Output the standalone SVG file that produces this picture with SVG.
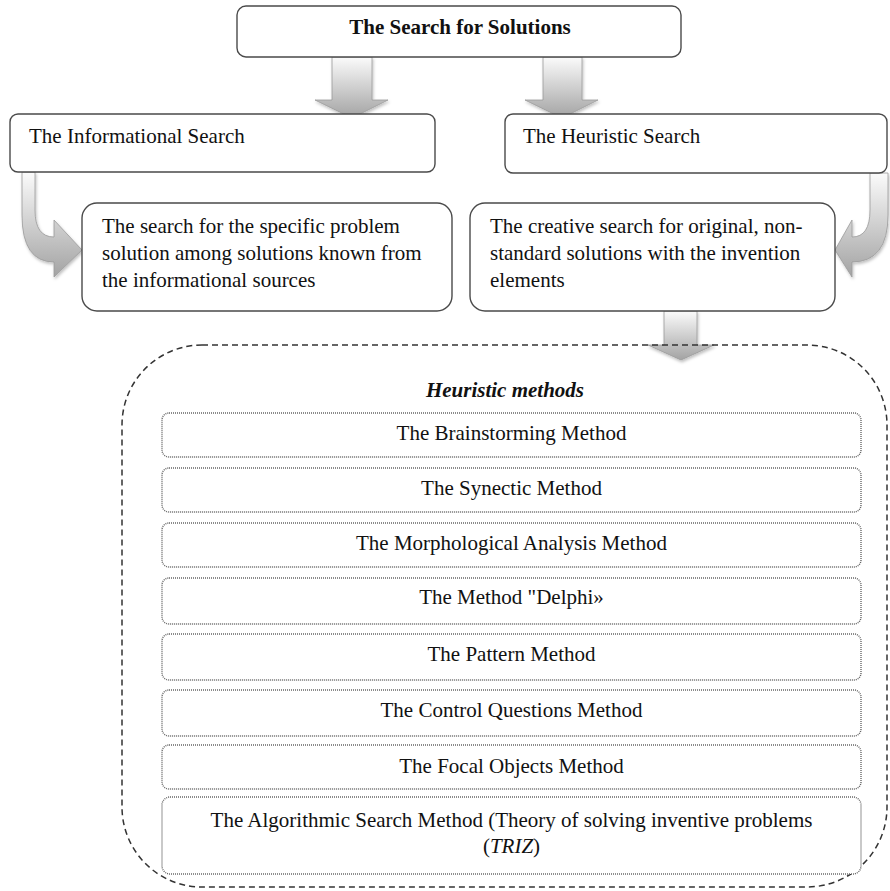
<svg xmlns="http://www.w3.org/2000/svg" width="890" height="891" viewBox="0 0 890 891">
<defs>
<style>
text{font-size:21px;fill:#111}
.c{text-anchor:middle}
.box{fill:#fff;stroke:#4a4a4a;stroke-width:1.4}
.mbox{fill:#fff;stroke:#666;stroke-width:1.4;stroke-dasharray:1 1}
.arr{stroke:#9a9a9a;stroke-width:0.8}
</style>
<linearGradient id="gv" x1="0" y1="0" x2="0" y2="1">
<stop offset="0" stop-color="#fbfbfb"/>
<stop offset="1" stop-color="#a3a3a3"/>
</linearGradient>
<filter id="sh" x="-20%" y="-20%" width="140%" height="140%">
<feDropShadow dx="1" dy="2" stdDeviation="1.5" flood-color="#000" flood-opacity="0.25"/>
</filter>
</defs>

<g id="connectors">
<path class="arr" fill="url(#gv)" filter="url(#sh)" d="M332 57 L372 57 L372 100 L388 100 L352 118 L315 100 L332 100 Z"/>
<path class="arr" fill="url(#gv)" filter="url(#sh)" d="M543 57 L582 57 L582 100 L598 100 L562 118 L525 100 L543 100 Z"/>
<path class="arr" fill="url(#gv)" filter="url(#sh)" d="M664 311 L697 311 L697 345 L714 345 L681 360 L648 345 L664 345 Z"/>
<path class="arr" fill="url(#gv)" filter="url(#sh)" d="M22 172 L35 172 L35 210 Q35 237 54 237 L54 220 L82 250 L54 277 L54 262 Q22 262 22 215 Z"/>
<path class="arr" fill="url(#gv)" filter="url(#sh)" d="M888 173 L870 173 L870 210 Q870 237 852 237 L852 220 L835 250 L852 277 L852 262 Q888 262 888 215 Z"/>
</g>

<g font-family="'Liberation Serif', serif">
<g id="n-top">
<rect class="box" x="237" y="6" width="444" height="51" rx="9"/>
<text class="c" x="460" y="34" font-weight="bold">The Search for Solutions</text>
</g>

<g id="n-info">
<rect class="box" x="10" y="114" width="425" height="58" rx="8"/>
<text x="29" y="143">The Informational Search</text>
</g>

<g id="n-heur">
<rect class="box" x="505" y="114" width="382" height="59" rx="8"/>
<text x="523" y="143">The Heuristic Search</text>
</g>

<g id="n-info-desc">
<rect class="box" x="82" y="203" width="370" height="108" rx="15"/>
<text x="102" y="233">The search for the specific problem</text>
<text x="102" y="260">solution among solutions known from</text>
<text x="102" y="287">the informational sources</text>
</g>

<g id="n-heur-desc">
<rect class="box" x="470" y="203" width="365" height="108" rx="15"/>
<text x="490" y="233">The creative search for original, non-</text>
<text x="490" y="260">standard solutions with the invention</text>
<text x="490" y="287">elements</text>
</g>

<g id="n-methods">
<rect x="122" y="345" width="765" height="542" rx="80" fill="none" stroke="#333" stroke-width="1.5" stroke-dasharray="6 4"/>
<text class="c" x="505" y="397" font-weight="bold" font-style="italic">Heuristic methods</text>
</g>

<g id="m1"><rect class="mbox" x="162" y="413" width="699" height="44" rx="7"/><text class="c" x="511.5" y="440">The Brainstorming Method</text></g>
<g id="m2"><rect class="mbox" x="162" y="468" width="699" height="44" rx="7"/><text class="c" x="511.5" y="495">The Synectic Method</text></g>
<g id="m3"><rect class="mbox" x="162" y="523" width="699" height="44" rx="7"/><text class="c" x="511.5" y="550">The Morphological Analysis Method</text></g>
<g id="m4"><rect class="mbox" x="162" y="578" width="699" height="46" rx="7"/><text class="c" x="511.5" y="604">The Method "Delphi»</text></g>
<g id="m5"><rect class="mbox" x="162" y="634" width="699" height="46" rx="7"/><text class="c" x="511.5" y="661">The Pattern Method</text></g>
<g id="m6"><rect class="mbox" x="162" y="690" width="699" height="46" rx="7"/><text class="c" x="511.5" y="717">The Control Questions Method</text></g>
<g id="m7"><rect class="mbox" x="162" y="745" width="699" height="44" rx="7"/><text class="c" x="511.5" y="773">The Focal Objects Method</text></g>
<g id="m8"><rect class="mbox" x="162" y="797" width="699" height="77" rx="8"/>
<text class="c" x="511.5" y="827">The Algorithmic Search Method (Theory of solving inventive problems</text>
<text class="c" x="511.5" y="853">(<tspan font-style="italic">TRIZ</tspan>)</text></g>
</g>
</svg>
